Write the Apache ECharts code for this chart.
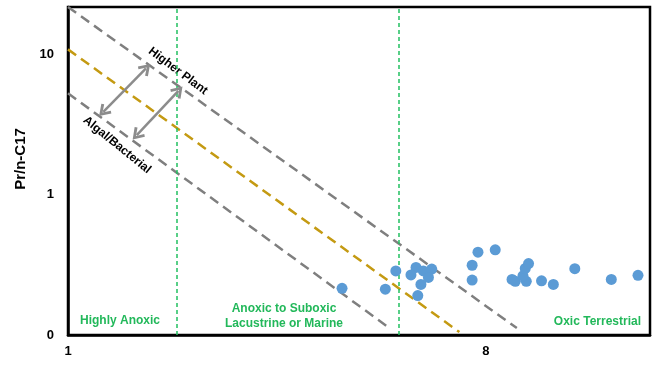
<!DOCTYPE html>
<html><head><meta charset="utf-8">
<script src="https://cdn.jsdelivr.net/npm/echarts@6/dist/echarts.min.js"></script>
<style>html,body{margin:0;padding:0;background:#fff}#c{width:659px;height:370px}</style>
</head><body><div id="c"></div>
<script>
// ---- data ----
const sampleX = [3.91, 4.85, 5.11, 5.65, 5.51, 5.86, 6.11, 6.01, 5.79, 5.70,
                 7.69, 8.38, 7.47, 7.47, 9.11, 9.26, 9.78, 9.62, 9.73, 9.89,
                 10.55, 11.19, 12.45, 14.93, 17.05];
const sampleY = [0.215, 0.212, 0.286, 0.303, 0.268, 0.286, 0.295, 0.257, 0.229, 0.191,
                 0.389, 0.404, 0.314, 0.246, 0.249, 0.241, 0.241, 0.264, 0.298, 0.323,
                 0.243, 0.229, 0.297, 0.249, 0.266];
const higherPlantLineX = [1, 9.33];
const higherPlantLineY = [21.7, 0.112];
const middleLineX = [1, 7.01];
const middleLineY = [10.83, 0.105];
const algalLineX = [1, 4.97];
const algalLineY = [5.27, 0.111];
const zoneBoundaries = [1.718, 5.18];
const arrow1X = [1.192, 1.474];
const arrow1Y = [3.89, 7.94];
const arrow2X = [1.408, 1.732];
const arrow2Y = [2.655, 5.49];
const xTickValues = [1, 8];
const xTickLabels = ['1', '8'];
const yTickValues = [0.1, 1, 10];
const yTickLabels = ['0', '1', '10'];
const xRange = [1, 18.1];
const yRange = [0.1, 21.7];
const yAxisTitle = 'Pr/n-C17';
const zoneLabels = ['Highly Anoxic', 'Anoxic to Suboxic\nLacustrine or Marine', 'Oxic Terrestrial'];
const lineLabels = ['Higher Plant', 'Algal/Bacterial'];

// ---- chart ----
const FONT = '"Liberation Sans", Arial, sans-serif';
const chev = 'path://M5,0 L10,7.6 L8.3,8.8 L5,3.6 L1.7,8.8 L0,7.6 Z';
function pickLabel(vals, labs) {
  return v => { for (let i = 0; i < vals.length; i++) { if (Math.abs(v - vals[i]) / vals[i] < 1e-6) return labs[i]; } return ''; };
}
const zip = (a, b) => a.map((v, i) => [v, b[i]]);
const dashLine = (name, xs, ys, color) => ({
  name, type: 'line', data: zip(xs, ys), symbol: 'none', silent: true,
  lineStyle: { color, width: 2.5, type: [10, 6] }, z: 2
});
const arrowItem = (xs, ys) => [
  { coord: [xs[0], ys[0]], symbol: chev, symbolSize: [14, 12],
    lineStyle: { color: '#8c8c8c', width: 2.5, type: 'solid' } },
  { coord: [xs[1], ys[1]], symbol: chev, symbolSize: [14, 12] }
];

const chart = echarts.init(document.getElementById('c'), null, { renderer: 'canvas' });
chart.setOption({
  animation: false,
  backgroundColor: '#fff',
  grid: { left: 68, top: 7, right: 9, bottom: 35, show: true, borderColor: '#000', borderWidth: 2.5 },
  xAxis: {
    type: 'log', logBase: 8, min: xRange[0], max: xRange[1],
    axisLine: { lineStyle: { color: '#000', width: 2.5 } },
    axisTick: { show: false }, splitLine: { show: false },
    axisLabel: { color: '#000', fontFamily: FONT, fontWeight: 'bold', fontSize: 13, margin: 10,
                 formatter: pickLabel(xTickValues, xTickLabels) }
  },
  yAxis: {
    type: 'log', logBase: 10, min: yRange[0], max: yRange[1],
    axisLine: { lineStyle: { color: '#000', width: 2.5 } },
    axisTick: { show: false }, splitLine: { show: false },
    axisLabel: { color: '#000', fontFamily: FONT, fontWeight: 'bold', fontSize: 13, margin: 14,
                 formatter: pickLabel(yTickValues, yTickLabels) }
  },
  series: [
    dashLine('Higher Plant', higherPlantLineX, higherPlantLineY, '#7f7f7f'),
    dashLine('Middle', middleLineX, middleLineY, '#c49a12'),
    dashLine('Algal/Bacterial', algalLineX, algalLineY, '#7f7f7f'),
    {
      name: 'Samples', type: 'scatter', data: zip(sampleX, sampleY),
      symbolSize: 11, itemStyle: { color: '#5b9bd5', opacity: 1 }, z: 5,
      markLine: {
        silent: true, symbol: ['none', 'none'], label: { show: false },
        lineStyle: { color: '#22c060', width: 1.5, type: [4, 3] },
        data: [
          { xAxis: zoneBoundaries[0] },
          { xAxis: zoneBoundaries[1] },
          arrowItem(arrow1X, arrow1Y),
          arrowItem(arrow2X, arrow2Y)
        ]
      }
    }
  ],
  graphic: [
    { type: 'text', x: 21, y: 159, rotation: Math.PI / 2,
      style: { text: yAxisTitle, fill: '#000', font: 'bold 15px ' + FONT, align: 'center', verticalAlign: 'middle' } },
    { type: 'text', left: 80, top: 315, style: { text: zoneLabels[0], fill: '#22b85a', font: 'bold 12px ' + FONT } },
    { type: 'text', x: 284, y: 316, style: { text: zoneLabels[1], fill: '#22b85a', font: 'bold 12px ' + FONT,
        align: 'center', verticalAlign: 'middle', lineHeight: 14.5 } },
    { type: 'text', x: 641, y: 322, style: { text: zoneLabels[2], fill: '#22b85a', font: 'bold 12px ' + FONT,
        align: 'right', verticalAlign: 'middle' } },
    { type: 'text', x: 178, y: 71, rotation: -37 * Math.PI / 180,
      style: { text: lineLabels[0], fill: '#000', font: 'bold 12px ' + FONT, align: 'center', verticalAlign: 'middle' } },
    { type: 'text', x: 117, y: 145, rotation: -39 * Math.PI / 180,
      style: { text: lineLabels[1], fill: '#000', font: 'bold 12px ' + FONT, align: 'center', verticalAlign: 'middle' } }
  ]
});
</script></body></html>
